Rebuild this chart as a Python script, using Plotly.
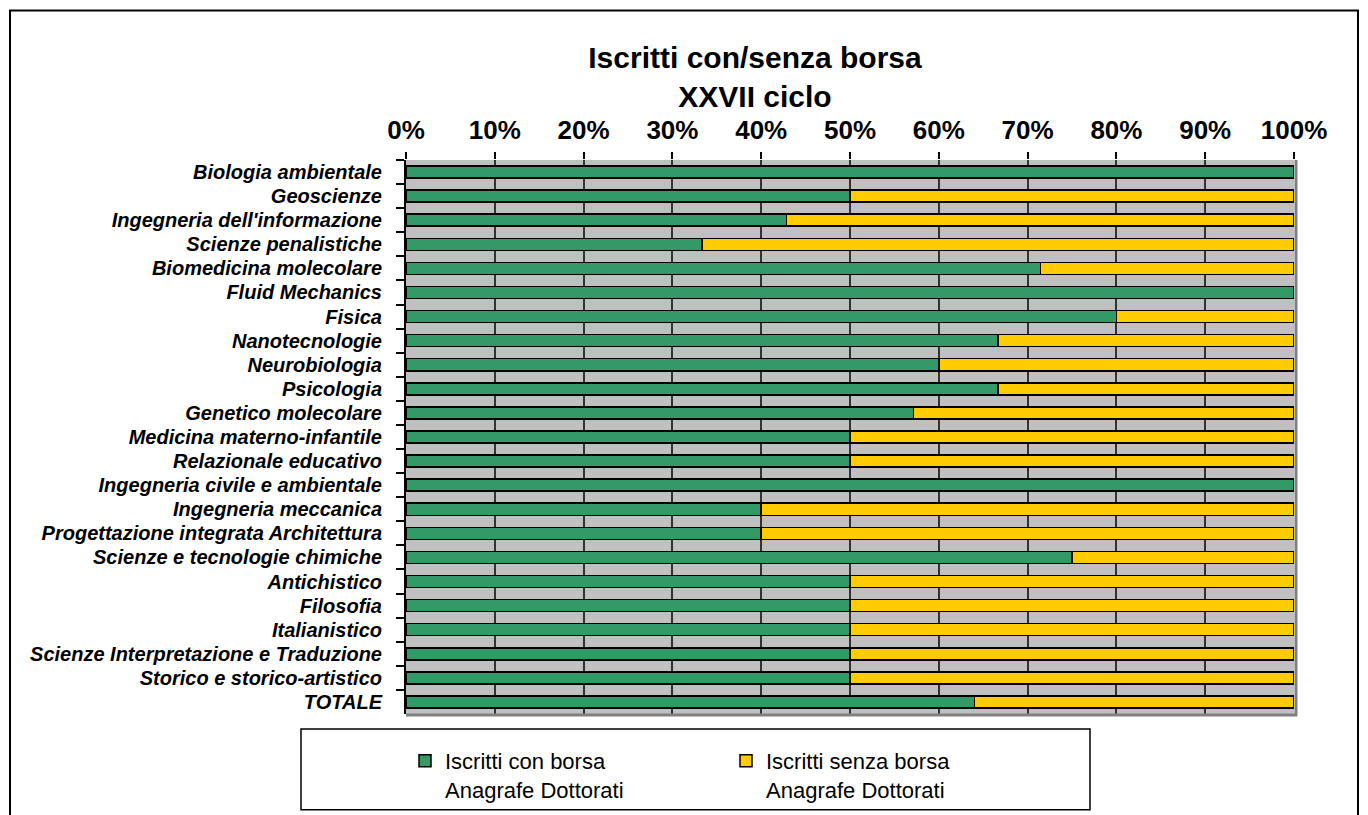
import plotly.graph_objects as go

categories = [
    "Biologia ambientale", "Geoscienze", "Ingegneria dell'informazione",
    "Scienze penalistiche", "Biomedicina molecolare", "Fluid Mechanics",
    "Fisica", "Nanotecnologie", "Neurobiologia", "Psicologia",
    "Genetico molecolare", "Medicina materno-infantile", "Relazionale educativo",
    "Ingegneria civile e ambientale", "Ingegneria meccanica",
    "Progettazione integrata Architettura", "Scienze e tecnologie chimiche",
    "Antichistico", "Filosofia", "Italianistico",
    "Scienze Interpretazione e Traduzione", "Storico e storico-artistico", "TOTALE",
]
con_borsa = [100, 50, 42.86, 33.33, 71.43, 100, 80, 66.67, 60, 66.67,
             57.14, 50, 50, 100, 40, 40, 75, 50, 50, 50, 50, 50, 64]
senza_borsa = [100 - v for v in con_borsa]
series_names = ["Iscritti con borsa<br>Anagrafe Dottorati",
                "Iscritti senza borsa<br>Anagrafe Dottorati"]
x_ticks = list(range(0, 101, 10))
x_ticklabels = [f"{t}%" for t in x_ticks]

W, H = 1368, 815
OFF = 8  # page body margin offset
L, R, T, B = 406 - OFF, 1294 - OFF, 160 - OFF, 716 - OFF


def px(x):
    return (x - OFF - L) / (R - L)


def py(y):
    return (B - (y - OFF)) / (B - T)


fig = go.Figure()
fig.add_trace(go.Bar(y=categories, x=con_borsa, orientation="h", name=series_names[0],
                     marker=dict(color="#339966", line=dict(color="black", width=1.5)),
                     width=0.5))
fig.add_trace(go.Bar(y=categories, x=senza_borsa, orientation="h", name=series_names[1],
                     marker=dict(color="#FFCC00", line=dict(color="black", width=1.5)),
                     width=0.5))

fig.update_layout(
    width=W, height=H,
    margin=dict(l=L, r=W - R, t=T, b=H - B),
    barmode="stack",
    paper_bgcolor="white",
    plot_bgcolor="#C0C0C0",
    font=dict(family="Liberation Sans, Arial, sans-serif", color="black"),
    title=dict(text="<b>Iscritti con/senza borsa<br>XXVII ciclo</b>",
               font=dict(size=30, color="black"),
               x=px(755), xref="paper", xanchor="center",
               y=1 - (68 - OFF) / H, yref="container", yanchor="top"),
    xaxis=dict(side="top", range=[0, 100], tickvals=x_ticks, ticktext=x_ticklabels,
               tickfont=dict(size=26, weight="bold"), ticks="outside", ticklen=7,
               tickwidth=2, tickcolor="black", showgrid=True, gridcolor="#333333",
               gridwidth=1.5, zeroline=False, showline=False, ticklabelstandoff=3,
               fixedrange=True),
    yaxis=dict(autorange="reversed", tickson="boundaries", ticks="outside", ticklen=8,
               tickwidth=1.5, tickcolor="black", showline=True, linecolor="black",
               linewidth=2, tickfont=dict(size=20, weight="bold", style="italic"),
               ticklabelstandoff=18, showgrid=False, fixedrange=True),
    showlegend=True,
    legend=dict(orientation="h", x=px(405), xanchor="left", y=py(742), yanchor="top",
                font=dict(size=22), bgcolor="rgba(0,0,0,0)", entrywidth=276,
                entrywidthmode="pixels", valign="top", traceorder="normal"),
    shapes=[
        dict(type="line", xref="paper", yref="paper", x0=px(1296), x1=px(1296),
             y0=py(718), y1=py(160), line=dict(color="#808080", width=3)),
        dict(type="line", xref="paper", yref="paper", x0=px(406), x1=px(1297),
             y0=py(717), y1=py(717), line=dict(color="#808080", width=3)),
        dict(type="rect", xref="paper", yref="paper", x0=px(301), x1=px(1090),
             y0=py(812), y1=py(731), line=dict(color="black", width=1.5),
             fillcolor="rgba(0,0,0,0)"),
        dict(type="rect", xref="paper", yref="paper", x0=px(10), x1=px(1358),
             y0=py(840), y1=py(10), line=dict(color="black", width=2),
             fillcolor="rgba(0,0,0,0)"),
    ],
)

fig.write_html("out.html")
